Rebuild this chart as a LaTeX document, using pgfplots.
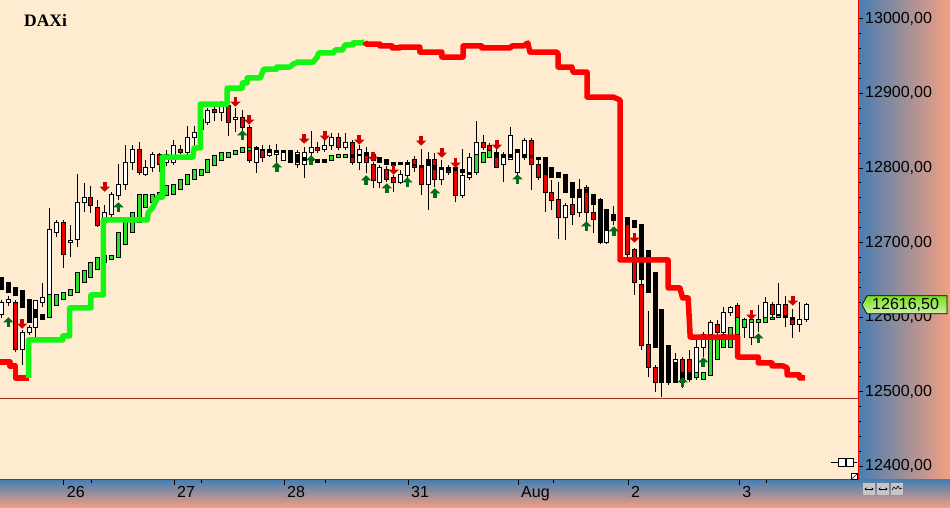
\documentclass[border=0pt]{standalone}
\usepackage{fontspec}
\setmainfont{Liberation Sans}
\newfontfamily\titlefont{Liberation Serif}
\usepackage{pgfplots}
\pgfplotsset{compat=1.18}
\usepackage{pgfplotstable}
\usetikzlibrary{arrows.meta}
\definecolor{bgc}{RGB}{254,235,208}
\definecolor{panelblue}{RGB}{72,126,178}
\definecolor{panelsalmon}{RGB}{243,160,128}
\definecolor{candred}{RGB}{235,0,0}
\definecolor{hagreen}{RGB}{40,225,40}
\definecolor{stopred}{RGB}{255,0,0}
\definecolor{stopgreen}{RGB}{20,245,20}
\definecolor{arrred}{RGB}{205,0,0}
\definecolor{arrgreen}{RGB}{0,110,20}
\definecolor{hline}{RGB}{150,50,30}
\definecolor{tagtop}{RGB}{120,225,30}
\definecolor{tagbot}{RGB}{205,240,170}

% white (rising) candles: index, low, high, body bottom, body top
\pgfplotstableread{
i lo hi bot top
0 12598.9 12623.0 12602.9 12619.0
1 12615.0 12628.4 12619.0 12624.3
3 12535.9 12582.8 12556.0 12580.1
4 12576.1 12589.5 12578.8 12586.8
5 12573.4 12623.0 12586.8 12621.7
6 12613.6 12645.8 12619.0 12625.7
7 12598.9 12746.3 12600.2 12718.1
8 12707.4 12730.2 12714.1 12726.2
10 12680.6 12723.5 12699.4 12702.1
11 12694.0 12791.8 12703.4 12754.3
12 12740.9 12779.8 12754.3 12759.7
15 12722.2 12750.3 12727.5 12739.6
16 12732.9 12767.7 12736.9 12763.7
17 12757.0 12805.2 12762.4 12778.4
18 12770.4 12830.7 12777.1 12807.9
19 12797.2 12830.7 12807.9 12824.0
21 12789.2 12810.6 12791.8 12801.2
22 12794.5 12821.3 12801.2 12818.6
24 12802.6 12824.0 12807.9 12817.3
25 12803.9 12837.4 12806.6 12829.4
27 12814.6 12856.2 12821.3 12841.4
28 12828.0 12856.2 12841.4 12846.8
29 12844.1 12870.9 12850.8 12864.2
30 12857.5 12880.3 12860.2 12876.3
32 12862.9 12889.7 12873.6 12883.0
34 12848.1 12880.3 12864.2 12868.2
37 12793.2 12829.4 12806.6 12826.7
39 12814.6 12830.7 12816.0 12824.0
40 12803.9 12832.0 12818.6 12821.3
41 12809.3 12821.3 12809.3 12821.3
42 12807.9 12822.7 12807.9 12822.7
43 12799.9 12824.0 12803.9 12821.3
44 12786.5 12828.0 12803.9 12821.3
45 12810.6 12849.5 12821.3 12828.0
47 12821.3 12837.4 12824.0 12829.4
48 12824.0 12846.8 12829.4 12840.1
50 12824.0 12846.8 12828.0 12833.4
52 12797.2 12830.7 12806.6 12824.0
55 12773.1 12803.9 12781.1 12801.2
58 12778.4 12797.2 12781.1 12790.5
59 12783.8 12810.6 12789.2 12806.6
62 12743.6 12821.3 12777.1 12810.6
64 12777.1 12810.6 12783.8 12801.2
67 12759.7 12825.3 12762.4 12789.2
68 12783.8 12820.0 12787.8 12814.6
69 12790.5 12862.9 12794.5 12834.7
73 12781.1 12821.3 12803.9 12818.6
74 12810.6 12854.8 12811.9 12842.8
75 12790.5 12824.0 12793.2 12824.0
76 12810.6 12840.1 12818.6 12836.1
82 12703.4 12753.0 12732.9 12749.0
84 12734.2 12785.1 12739.6 12761.0
88 12698.0 12743.6 12700.7 12727.5
97 12509.1 12561.4 12515.8 12542.6
98 12533.2 12552.0 12538.6 12543.9
101 12515.8 12569.4 12518.5 12560.0
102 12546.6 12580.1 12560.0 12577.4
103 12573.4 12596.2 12576.1 12592.2
105 12573.4 12613.6 12580.1 12606.9
106 12601.6 12615.0 12605.6 12613.6
108 12572.1 12598.9 12593.5 12596.2
109 12562.7 12605.6 12572.1 12592.2
110 12580.1 12616.3 12594.2 12595.6
111 12592.2 12627.0 12593.5 12619.0
113 12600.2 12645.8 12604.2 12616.3
116 12580.1 12620.3 12589.5 12597.5
117 12593.5 12619.0 12597.5 12616.5
}\candW

% red (falling) candles
\pgfplotstableread{
i lo hi bot top
2 12553.3 12623.0 12556.0 12620.3
9 12665.9 12730.2 12683.3 12726.2
13 12739.6 12775.8 12749.0 12759.7
14 12720.8 12757.0 12722.2 12747.6
20 12790.5 12834.7 12793.2 12824.0
23 12794.5 12820.0 12805.2 12818.6
26 12818.6 12830.7 12821.3 12825.3
31 12862.9 12883.0 12873.6 12878.9
33 12842.8 12893.7 12861.5 12883.0
35 12849.5 12877.6 12853.5 12866.9
36 12806.6 12857.5 12809.3 12853.5
38 12807.9 12830.7 12813.3 12825.3
46 12820.0 12834.7 12822.7 12828.0
49 12824.0 12846.8 12828.0 12841.4
51 12803.9 12837.4 12807.9 12833.4
53 12793.2 12828.0 12806.6 12821.3
54 12773.1 12807.9 12782.5 12805.2
56 12781.1 12802.6 12785.1 12798.5
57 12767.7 12790.5 12779.8 12786.5
60 12794.5 12816.0 12801.2 12811.9
61 12763.7 12825.3 12778.4 12802.6
63 12774.4 12820.0 12783.8 12810.6
65 12790.5 12803.9 12794.5 12797.2
66 12754.3 12813.3 12762.4 12799.9
70 12824.0 12844.1 12828.0 12834.7
71 12820.0 12833.4 12822.7 12829.4
72 12799.9 12825.3 12801.2 12820.0
77 12770.4 12840.1 12805.2 12836.1
78 12783.8 12810.6 12787.8 12805.2
79 12740.9 12811.9 12766.4 12790.5
80 12743.6 12783.8 12755.7 12766.4
81 12704.7 12781.1 12734.2 12757.0
83 12723.5 12759.7 12738.2 12750.3
85 12727.5 12777.1 12740.9 12773.1
86 12712.8 12757.0 12731.5 12740.9
87 12698.0 12759.7 12702.1 12730.2
89 12723.5 12749.0 12728.9 12732.9
90 12714.1 12736.9 12716.8 12730.2
91 12679.3 12727.5 12683.3 12724.8
92 12629.7 12692.7 12645.8 12690.0
93 12556.0 12652.5 12561.4 12644.4
94 12519.8 12608.3 12531.9 12562.7
95 12499.7 12535.9 12511.8 12531.9
96 12493.0 12549.3 12511.8 12542.6
99 12505.1 12546.6 12519.8 12543.9
100 12513.1 12556.0 12518.5 12542.6
104 12573.4 12596.2 12580.1 12590.8
107 12596.2 12619.0 12598.9 12615.0
112 12596.2 12620.3 12602.9 12616.3
114 12586.8 12628.4 12598.9 12616.3
115 12572.1 12610.9 12589.5 12600.2
}\candR

% second (smoothed) body series: falling boxes (black)
\pgfplotstableread{
i bot top
0 12636.4 12653.8
1 12633.7 12645.8
2 12628.4 12639.1
3 12613.6 12635.1
4 12593.5 12624.3
5 12598.9 12609.6
6 12597.5 12604.2
37 12824.0 12826.7
38 12822.7 12825.3
39 12821.3 12824.0
40 12820.0 12822.7
41 12820.0 12822.7
42 12807.9 12822.7
43 12807.9 12817.3
44 12809.3 12814.6
45 12809.3 12810.6
46 12807.9 12810.6
47 12807.9 12810.6
51 12814.6 12817.3
52 12816.0 12818.6
53 12816.0 12820.0
54 12809.3 12817.3
55 12806.6 12814.6
56 12805.2 12810.6
57 12802.6 12807.9
58 12803.9 12806.6
59 12803.9 12806.6
60 12802.6 12805.2
61 12799.9 12802.6
62 12802.6 12810.6
63 12798.5 12802.6
64 12797.2 12801.2
65 12795.9 12801.2
66 12795.9 12799.9
67 12794.5 12798.5
68 12790.5 12794.5
72 12814.6 12820.0
73 12813.3 12818.6
74 12814.6 12817.3
75 12820.0 12824.0
76 12813.3 12816.0
77 12813.3 12816.0
78 12811.9 12814.6
79 12790.5 12814.6
80 12786.5 12801.2
81 12786.5 12794.5
82 12766.4 12790.5
83 12761.0 12779.8
84 12761.0 12770.4
85 12766.4 12771.7
86 12750.3 12763.7
87 12700.7 12757.0
88 12715.5 12743.6
89 12728.9 12736.9
90 12724.8 12734.2
91 12724.8 12734.2
92 12720.8 12728.9
93 12651.1 12724.8
94 12632.4 12688.7
95 12558.7 12660.5
96 12511.8 12609.6
97 12513.1 12561.4
98 12513.1 12538.6
99 12513.1 12526.5
100 12515.8 12526.5
114 12598.9 12601.6
115 12597.5 12600.2
}\haDown

% second body series: rising boxes (green)
\pgfplotstableread{
i bot top
7 12600.2 12629.7
8 12615.0 12631.0
9 12623.0 12633.7
10 12628.4 12636.4
11 12632.4 12660.5
12 12647.1 12661.9
13 12653.8 12673.9
14 12664.5 12679.3
15 12673.9 12682.0
16 12676.6 12682.0
17 12679.3 12714.1
18 12696.7 12734.2
19 12714.1 12740.9
20 12727.5 12763.7
21 12746.3 12763.7
22 12753.0 12765.0
23 12757.0 12766.4
24 12762.4 12775.8
25 12763.7 12778.4
26 12770.4 12785.1
27 12777.1 12791.8
28 12783.8 12798.5
29 12789.2 12798.5
30 12793.2 12811.9
31 12802.6 12816.0
32 12809.3 12820.0
33 12814.6 12821.3
34 12818.6 12822.7
35 12820.0 12826.7
36 12822.7 12826.7
48 12809.3 12816.0
49 12813.3 12817.3
50 12814.6 12817.3
69 12794.5 12818.6
70 12806.6 12820.0
71 12813.3 12822.7
101 12518.5 12526.5
102 12517.1 12526.5
103 12521.2 12573.4
104 12543.9 12573.4
105 12558.7 12576.1
106 12558.7 12586.8
107 12577.4 12598.9
108 12586.8 12597.5
109 12592.2 12596.2
110 12593.5 12596.2
111 12593.5 12598.9
112 12597.5 12600.2
113 12598.9 12601.6
}\haUp

% signal arrows: red (pointing down, from y) and green (pointing up, from y)
\pgfplotstableread{
i y
3 12597.5
15 12781.1
34 12895.0
36 12870.9
44 12845.4
47 12849.5
52 12844.1
54 12821.3
57 12803.9
61 12842.8
64 12826.7
66 12813.3
72 12837.4
92 12712.8
109 12609.6
115 12628.4
}\arrR
\pgfplotstableread{
i y
1 12586.8
17 12740.9
35 12837.4
40 12794.5
45 12803.9
53 12777.1
56 12766.4
59 12774.4
63 12759.7
75 12778.4
85 12715.5
89 12708.8
99 12506.4
102 12533.2
110 12565.4
}\arrG

\begin{document}
\begin{tikzpicture}[x=1pt,y=1pt]
\useasboundingbox (0,-28) rectangle (950,480);
\shade[left color=panelblue, right color=panelsalmon] (858,0) rectangle (950,480);
\shade[top color=panelblue, bottom color=panelsalmon] (0,-28) rectangle (950,0);
\begin{axis}[
  at={(0,0)}, anchor=south west,
  scale only axis, width=858pt, height=480pt,
  xmin=-0.218, xmax=124.49, ymin=12381.8, ymax=13025,
  axis background/.style={fill=bgc},
  axis x line*=bottom, axis y line*=right,
  axis line style={stopred, line width=1pt},
  tick align=outside,
  major tick length=5pt, minor tick length=3pt,
  tick style={black, line width=0.8pt},
  scaled y ticks=false,
  ytick={12400,12500,...,13000},
  minor y tick num=4,
  xtick={9.04,25.07,41.06,59.08,75.07,91.06,107.2},
  xticklabels={26,27,28,31,Aug,2,3},
  minor xtick={13,29.1,47.1,80.2,111.2},
  tick label style={font=\fontsize{16}{18}\selectfont, black},
  /pgf/number format/assume math mode=true,
  yticklabel style={anchor=west, inner sep=0pt, xshift=2pt,
    /pgf/number format/fixed, /pgf/number format/fixed zerofill,
    /pgf/number format/precision=2, /pgf/number format/use comma,
    /pgf/number format/1000 sep={}},
  xticklabel style={anchor=north west, inner sep=0pt, xshift=3pt, yshift=-1pt},
]
% reference level
\addplot[hline, line width=0.9pt] coordinates {(-1,12491.7) (126,12491.7)};
% wicks
\addplot[black, line width=1pt, quiver={u=0,v=\thisrow{hi}-\thisrow{lo}}] table[x=i,y=lo]{\candW};
\addplot[black, line width=1pt, quiver={u=0,v=\thisrow{hi}-\thisrow{lo}}] table[x=i,y=lo]{\candR};
% candle bodies
\addplot[black, line width=5pt, quiver={u=0,v=\thisrow{top}-\thisrow{bot}+1.34}] table[x=i,y expr=\thisrow{bot}-0.67]{\candW};
\addplot[white, line width=3pt, quiver={u=0,v={max(\thisrow{top}-\thisrow{bot}-1.34,0)}}] table[x=i,y expr=\thisrow{bot}+0.67]{\candW};
\addplot[black, line width=5pt, quiver={u=0,v=\thisrow{top}-\thisrow{bot}+1.34}] table[x=i,y expr=\thisrow{bot}-0.67]{\candR};
\addplot[candred, line width=3pt, quiver={u=0,v={max(\thisrow{top}-\thisrow{bot}-1.34,0)}}] table[x=i,y expr=\thisrow{bot}+0.67]{\candR};
% smoothed bodies
\addplot[black, line width=5pt, quiver={u=0,v=\thisrow{top}-\thisrow{bot}+1.34}] table[x=i,y expr=\thisrow{bot}-0.67]{\haDown};
\addplot[black, line width=5pt, quiver={u=0,v=\thisrow{top}-\thisrow{bot}+1.34}] table[x=i,y expr=\thisrow{bot}-0.67]{\haUp};
\addplot[hagreen, line width=3pt, quiver={u=0,v={max(\thisrow{top}-\thisrow{bot}-1.34,0)}}] table[x=i,y expr=\thisrow{bot}+0.67]{\haUp};
% trailing stop
\addplot[stopred, line width=5.5pt, line join=round] coordinates {
(-0.5,12539.9) (1.2,12539.9) (1.2,12534.6) (2.0,12534.6) (2.0,12518.5) (3.95,12518.5)};
\addplot[stopgreen, line width=5.5pt, line join=round] coordinates {
(3.95,12518.5) (3.95,12569.4) (8.9,12569.4) (8.9,12574.8) (9.9,12574.8) (9.9,12612.3)
(13.0,12612.3) (13.0,12629.7) (14.8,12629.7) (14.8,12730.2) (21.2,12730.2) (21.3,12739.6)
(21.9,12746.3) (22.3,12753.0) (22.7,12761.0) (23.4,12761.0) (23.4,12814.6) (27.8,12814.6)
(28.0,12826.7) (28.9,12826.7) (28.9,12885.6) (32.8,12885.6) (32.8,12907.0) (35.0,12907.0)
(35.0,12913.8) (35.7,12913.8) (35.7,12920.5) (37.6,12920.5) (37.9,12927.2) (38.1,12932.5)
(40.0,12932.5) (40.0,12935.2) (41.9,12935.2) (42.4,12939.2) (43.1,12941.9) (45.3,12941.9)
(45.9,12948.6) (46.1,12954.0) (48.2,12954.0) (48.5,12958.0) (49.6,12958.0) (49.9,12964.7)
(51.1,12964.7) (51.1,12967.4) (52.4,12967.4) (52.8,12969.0)};
\addplot[stopred, line width=5.5pt, line join=round] coordinates {
(52.8,12969.0) (53.0,12966.0) (55.0,12966.0) (55.0,12963.4) (56.8,12963.4) (56.8,12960.7)
(57.9,12960.7) (57.9,12962.0) (60.8,12962.0) (60.8,12955.3) (64.0,12955.3) (64.0,12948.6)
(67.1,12948.6) (67.1,12963.4) (69.8,12963.4) (69.8,12960.7) (73.9,12960.7) (74.2,12963.4)
(75.8,12963.4) (76.5,12967.4) (76.8,12955.3) (80.7,12955.3) (80.9,12952.6) (80.9,12935.2)
(82.9,12935.2) (83.1,12928.5) (85.1,12928.5) (85.1,12895.0) (88.9,12895.0) (89.9,12891.0)
(89.9,12676.6) (96.9,12676.6) (96.9,12639.1) (98.6,12639.1) (99.0,12625.7) (99.8,12625.7)
(100.1,12573.4) (107.0,12573.4) (107.0,12546.6) (110.0,12546.6) (110.0,12538.6) (112.0,12538.6)
(112.0,12534.6) (113.6,12534.6) (114.2,12532.0) (114.2,12522.5) (116.0,12522.5) (116.0,12518.5)
(116.8,12518.5)};
% signal arrows
\addplot[arrred, line width=3.6pt, -{Triangle[width=10pt,length=5pt]}, quiver={u=0,v=-13}] table[x=i,y=y]{\arrR};
\addplot[arrgreen, line width=3.6pt, -{Triangle[width=10pt,length=5pt]}, quiver={u=0,v=13}] table[x=i,y=y]{\arrG};
\coordinate (tagpt) at (axis cs:124.49,12616.5);
\end{axis}
% last price tag
\shadedraw[top color=tagtop, bottom color=tagbot, draw=black, line width=0.7pt]
  ([xshift=4pt]tagpt) -- ++(5,9) -- ++(80,0) -- ++(0,-18) -- ++(-80,0) -- cycle;
\node[anchor=west, inner sep=0pt, font=\fontsize{16}{18}\selectfont] at ([xshift=14pt]tagpt) {12616,50};
% title
\node[anchor=base west, inner sep=0pt, font=\titlefont\bfseries\fontsize{17.5}{20}\selectfont] at (24,453) {DAXi};
% small widgets
\draw[line width=0.8pt] (831,18) -- (857,18);
\draw[fill=white, line width=0.8pt] (838,14) rectangle (845,22);
\draw[fill=white, line width=0.8pt] (846,14) rectangle (853,22);
\draw[fill=white, line width=0.5pt] (851,0.5) rectangle (857.5,6.5);
\draw[line width=0.5pt] (851.5,1) -- (857,6);
\foreach \bx in {863,877,891}{
  \fill[gray!45] (\bx,-15) rectangle ++(12,12);
}
\draw[{Stealth[length=2pt,width=3pt]}-{Stealth[length=2pt,width=3pt]}, line width=0.6pt] (864.5,-9) -- (873.5,-9);
\draw[{Stealth[length=2pt,width=3pt]}-{Stealth[length=2pt,width=3pt]}, line width=0.6pt] (878.5,-9) -- (887.5,-9);
\draw[line width=0.6pt] (892,-10) -- (894,-7) -- (896,-9) -- (898,-6) -- (900,-9) -- (902,-8);
\end{tikzpicture}
\end{document}
